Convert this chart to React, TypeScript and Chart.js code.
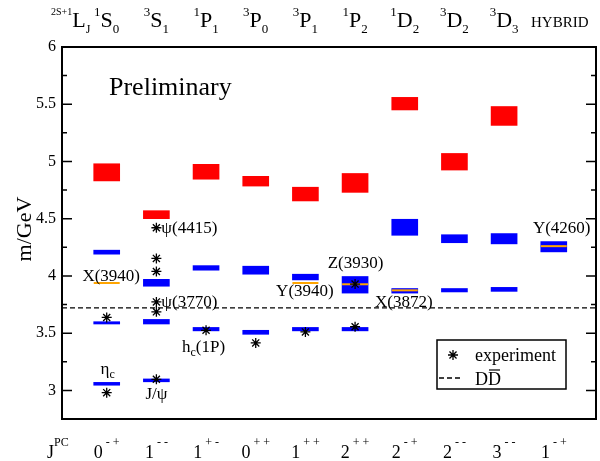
import React, { useEffect, useRef } from "react";
import { Chart, registerables } from "chart.js";

Chart.register(...registerables);

// ---------- data ----------
const COLUMNS = [0, 1, 2, 3, 4, 5, 6, 7, 8, 9];
const TERM_SUP = ["1", "3", "1", "3", "3", "1", "1", "3", "3", ""];
const TERM_MAIN = ["S", "S", "P", "P", "P", "P", "D", "D", "D", "HYBRID"];
const TERM_SUB = ["0", "1", "1", "0", "1", "2", "2", "2", "3", ""];
const JPC_MAIN = ["0", "1", "1", "0", "1", "2", "2", "2", "3", "1"];
const JPC_SUP = ["- +", "- -", "+ -", "+ +", "+ +", "+ +", "- +", "- -", "- -", "- +"];

const RED_LO = [4.83, 4.5, 4.845, 4.785, 4.655, 4.73, 5.45, 4.925, 5.315, null];
const RED_HI = [4.98, 4.57, 4.975, 4.87, 4.775, 4.895, 5.56, 5.07, 5.48, null];
const BLUE1_LO = [3.045, 3.075, 3.52, 3.49, 3.52, 3.52, 3.85, 3.86, 3.865, 4.21];
const BLUE1_HI = [3.07, 3.1, 3.55, 3.525, 3.55, 3.55, 3.89, 3.89, 3.9, 4.3];
const BLUE2_LO = [3.58, 3.58, 4.05, 4.015, 3.965, 3.85, 4.355, 4.29, 4.28, null];
const BLUE2_HI = [3.6, 3.62, 4.09, 4.085, 4.015, 3.995, 4.495, 4.36, 4.37, null];
const BLUE3_LO = [4.19, 3.91, null, null, null, null, null, null, null, null];
const BLUE3_HI = [4.225, 3.97, null, null, null, null, null, null, null, null];

const CAND_COL = [0, 4, 5, 6, 9];
const CAND_MASS = [3.938, 3.938, 3.927, 3.874, 4.26];

const EXP_COL = [0, 0, 1, 1, 1, 1, 1, 1, 2, 3, 4, 5, 5];
const EXP_MASS = [2.98, 3.637, 3.097, 3.686, 3.773, 4.039, 4.153, 4.421, 3.525, 3.415, 3.511, 3.556, 3.929];

const DDBAR = 3.72;

const Y_MIN = 2.75;
const Y_MAX = 6;
const X_MIN = -0.9;
const X_MAX = 9.85;

// state names: [main, subscript, rest]
const NAME_MAIN = ["η", "J/ψ", "X(3940)", "ψ(4415)", "ψ(3770)", "h", "Y(3940)", "Z(3930)", "X(3872)", "Y(4260)"];
const NAME_SUB = ["c", "", "", "", "", "c", "", "", "", ""];
const NAME_REST = ["", "", "", "", "", "(1P)", "", "", "", ""];
const NAME_X = [0.02, 1.0, 0.09, 1.1, 1.1, 1.95, 3.99, 5.01, 5.98, 9.16];
const NAME_Y = [3.185, 2.97, 4.0, 4.415, 3.77, 3.38, 3.87, 4.11, 3.77, 4.42];
const NAME_ALIGN = ["center", "center", "center", "left", "left", "center", "center", "center", "center", "center"];

// ---------- helpers ----------
const SERIF = '"Liberation Serif", "Times New Roman", serif';
const f = (s: number) => `${s}px ${SERIF}`;

type Seg = { t: string; s: number; dy: number };

function drawSegs(ctx: CanvasRenderingContext2D, segs: Seg[], x: number, y: number, align: string) {
  let w = 0;
  for (const g of segs) {
    ctx.font = f(g.s);
    w += ctx.measureText(g.t).width;
  }
  let cx = align === "left" ? x : align === "right" ? x - w : x - w / 2;
  ctx.textAlign = "left";
  ctx.textBaseline = "alphabetic";
  for (const g of segs) {
    ctx.font = f(g.s);
    ctx.fillText(g.t, cx, y + g.dy);
    cx += ctx.measureText(g.t).width;
  }
}

function drawStar(ctx: CanvasRenderingContext2D, x: number, y: number, r: number) {
  ctx.beginPath();
  ctx.moveTo(x - r, y);
  ctx.lineTo(x + r, y);
  ctx.moveTo(x, y - r);
  ctx.lineTo(x, y + r);
  const d = r * Math.SQRT1_2;
  ctx.moveTo(x - d, y - d);
  ctx.lineTo(x + d, y + d);
  ctx.moveTo(x - d, y + d);
  ctx.lineTo(x + d, y - d);
  ctx.stroke();
}

const range = (lo: (number | null)[], hi: (number | null)[]) =>
  COLUMNS.filter((i) => lo[i] != null && hi[i] != null).map((i) => ({ x: i, y: [lo[i], hi[i]] }));

const decor = {
  id: "decor",
  afterDraw(chart: any) {
    const { ctx, chartArea: a, scales } = chart;
    const xs = scales.x;
    const ys = scales.y;
    ctx.save();
    ctx.fillStyle = "#000";
    ctx.strokeStyle = "#000";

    // frame
    ctx.lineWidth = 2;
    ctx.strokeRect(a.left, a.top, a.right - a.left, a.bottom - a.top);

    // inward ticks on left and right
    ctx.lineWidth = 1.5;
    for (const t of ys.ticks) {
      const y = ys.getPixelForValue(t.value);
      const major = Math.abs(t.value * 2 - Math.round(t.value * 2)) < 1e-6;
      const len = major ? 10 : 5;
      ctx.beginPath();
      ctx.moveTo(a.left, y);
      ctx.lineTo(a.left + len, y);
      ctx.moveTo(a.right, y);
      ctx.lineTo(a.right - len, y);
      ctx.stroke();
    }

    // y title
    ctx.save();
    ctx.translate(25, (a.top + a.bottom) / 2 - 4);
    ctx.rotate(-Math.PI / 2);
    ctx.font = f(22);
    ctx.textAlign = "center";
    ctx.textBaseline = "middle";
    ctx.fillText("m/GeV", 0, 0);
    ctx.restore();

    // Preliminary
    ctx.font = f(26);
    ctx.textAlign = "left";
    ctx.textBaseline = "alphabetic";
    ctx.fillText("Preliminary", a.left + 47, a.top + 48);

    // top term labels
    const topBase = a.top - 20;
    drawSegs(ctx, [{ t: "2S+1", s: 10, dy: -12 }, { t: "L", s: 22, dy: 0 }, { t: "J", s: 12, dy: 6 }], a.left - 11, topBase, "left");
    for (const i of COLUMNS) {
      const cx = xs.getPixelForValue(i);
      if (TERM_SUP[i] === "") {
        ctx.font = f(15);
        ctx.textAlign = "center";
        ctx.fillText(TERM_MAIN[i], cx + 6, topBase);
        continue;
      }
      drawSegs(
        ctx,
        [
          { t: TERM_SUP[i], s: 13, dy: -11 },
          { t: TERM_MAIN[i], s: 22, dy: 0 },
          { t: TERM_SUB[i], s: 13, dy: 6 },
        ],
        cx,
        topBase,
        "center"
      );
    }

    // bottom JPC labels
    const botBase = a.bottom + 39;
    drawSegs(ctx, [{ t: "J", s: 18, dy: 0 }, { t: "PC", s: 12, dy: -12 }], a.left - 15, botBase, "left");
    for (const i of COLUMNS) {
      const cx = xs.getPixelForValue(i);
      drawSegs(ctx, [{ t: JPC_MAIN[i], s: 18, dy: 0 }, { t: " " + JPC_SUP[i], s: 12, dy: -12 }], cx, botBase, "center");
    }

    // state names
    for (let k = 0; k < NAME_MAIN.length; k++) {
      const px = xs.getPixelForValue(NAME_X[k]);
      const py = ys.getPixelForValue(NAME_Y[k]) + 5;
      const segs: Seg[] = [{ t: NAME_MAIN[k], s: 17, dy: 0 }];
      if (NAME_SUB[k]) segs.push({ t: NAME_SUB[k], s: 12, dy: 4 });
      if (NAME_REST[k]) segs.push({ t: NAME_REST[k], s: 17, dy: 0 });
      drawSegs(ctx, segs, px, py, NAME_ALIGN[k]);
    }

    // legend
    const lx = a.right - 159;
    const ly = a.bottom - 79;
    ctx.lineWidth = 1.5;
    ctx.strokeRect(lx, ly, 129, 49);
    ctx.lineWidth = 1.3;
    drawStar(ctx, lx + 16, ly + 15, 5);
    ctx.font = f(18);
    ctx.textAlign = "left";
    ctx.fillText("experiment", lx + 38, ly + 21);
    ctx.setLineDash([5, 3]);
    ctx.beginPath();
    ctx.moveTo(lx + 2, ly + 38);
    ctx.lineTo(lx + 26, ly + 38);
    ctx.stroke();
    ctx.setLineDash([]);
    ctx.fillText("DD", lx + 38, ly + 45);
    const dW = ctx.measureText("D").width;
    ctx.lineWidth = 1.2;
    ctx.beginPath();
    ctx.moveTo(lx + 38 + dW + 1, ly + 30);
    ctx.lineTo(lx + 38 + 2 * dW - 1, ly + 30);
    ctx.stroke();

    ctx.restore();
  },
};

export default function App() {
  const ref = useRef<HTMLCanvasElement>(null);
  useEffect(() => {
    if (!ref.current) return;
    const barDs = (data: any, color: string) => ({
      type: "bar" as const,
      data,
      backgroundColor: color,
      borderWidth: 0,
      barThickness: 26,
      grouped: false,
      order: 5,
    });
    const chart = new Chart(ref.current, {
      type: "bar",
      data: {
        datasets: [
          {
            type: "scatter",
            data: EXP_COL.map((c, k) => ({ x: c, y: EXP_MASS[k] })),
            pointStyle: "star",
            pointRadius: 5,
            borderWidth: 1.3,
            borderColor: "#000",
            backgroundColor: "#000",
            order: 1,
          } as any,
          {
            type: "scatter",
            data: CAND_COL.map((c, k) => ({ x: c, y: CAND_MASS[k] })),
            pointStyle: "line",
            pointRadius: 13,
            borderWidth: 2,
            borderColor: "#FFA500",
            order: 2,
          } as any,
          barDs(range(RED_LO, RED_HI), "#FF0000"),
          barDs(range(BLUE1_LO, BLUE1_HI), "#0000FF"),
          barDs(range(BLUE2_LO, BLUE2_HI), "#0000FF"),
          barDs(range(BLUE3_LO, BLUE3_HI), "#0000FF"),
          {
            type: "line",
            data: [
              { x: X_MIN, y: DDBAR },
              { x: X_MAX, y: DDBAR },
            ],
            borderColor: "#000",
            borderWidth: 1.3,
            borderDash: [5, 3],
            pointRadius: 0,
            fill: false,
            order: 6,
          } as any,
        ],
      },
      options: {
        responsive: false,
        animation: false,
        devicePixelRatio: 1,
        layout: { autoPadding: false, padding: { top: 47, right: 4, bottom: 42, left: 0 } },
        plugins: { legend: { display: false }, tooltip: { enabled: false } },
        scales: {
          x: {
            type: "linear",
            min: X_MIN,
            max: X_MAX,
            offset: false,
            display: false,
            grid: { offset: false },
          },
          y: {
            type: "linear",
            min: Y_MIN,
            max: Y_MAX,
            afterFit: (s: any) => {
              s.width = 62;
            },
            grid: { display: false, drawTicks: false },
            border: { display: false },
            ticks: {
              stepSize: 0.25,
              padding: 6,
              autoSkip: false,
              color: "#000",
              font: { family: SERIF, size: 16 },
              callback: (v: any) => (Math.abs(v * 2 - Math.round(v * 2)) < 1e-6 ? String(v) : ""),
            },
          },
        },
      } as any,
      plugins: [decor],
    });
    return () => chart.destroy();
  }, []);
  return (
    <div style={{ position: "absolute", left: 0, top: 0, width: 600, height: 461, background: "#fff" }}>
      <canvas ref={ref} width={600} height={461} style={{ display: "block" }} />
    </div>
  );
}
